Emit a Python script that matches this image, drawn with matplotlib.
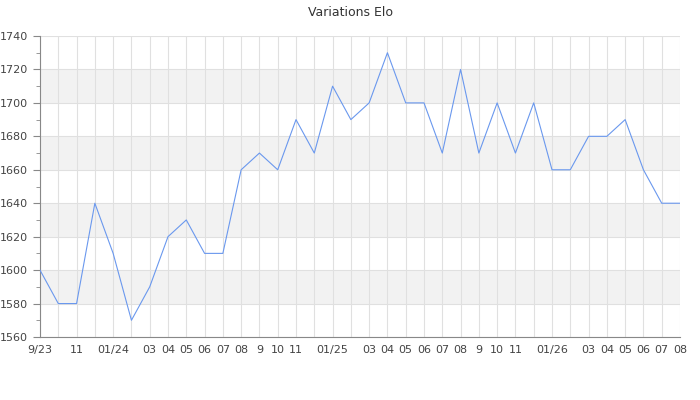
import matplotlib
matplotlib.use("Agg")
import matplotlib.pyplot as plt
import matplotlib.ticker as ticker

# monthly elo, sep 2023 -> aug 2026
elo = [1600, 1580, 1580, 1640, 1610, 1570, 1590, 1620, 1630, 1610, 1610, 1660,
       1670, 1660, 1690, 1670, 1710, 1690, 1700, 1730, 1700, 1700, 1670, 1720,
       1670, 1700, 1670, 1700, 1660, 1660, 1680, 1680, 1690, 1660, 1640, 1640]
month_labels = ["9/23", "", "11", "", "01/24", "", "03", "04", "05", "06", "07", "08",
                "9", "10", "11", "", "01/25", "", "03", "04", "05", "06", "07", "08",
                "9", "10", "11", "", "01/26", "", "03", "04", "05", "06", "07", "08"]
y_min, y_max = 1560, 1740
bands = [(1580, 1600), (1620, 1640), (1660, 1680), (1700, 1720)]

fig = plt.figure(figsize=(7, 4), dpi=100)
ax = fig.add_axes([40/700, 1-337/400, 640/700, 301/400])

x = list(range(len(elo)))
for lo, hi in bands:
    ax.axhspan(lo, hi, color="#f2f2f2", zorder=0, lw=0)

ax.plot(x, elo, color="#6a98ee", linewidth=0.8, zorder=3)

ax.set_xlim(0, len(elo) - 1)
ax.set_ylim(y_min, y_max)
ax.set_xticks(x)
ax.set_xticklabels(month_labels)
ax.yaxis.set_major_locator(ticker.MultipleLocator(20))
ax.yaxis.set_minor_locator(ticker.MultipleLocator(10))

ax.grid(True, which="major", color="#e0e0e0", linewidth=0.8, zorder=1)
ax.set_axisbelow(True)
for s in ["top", "right"]:
    ax.spines[s].set_visible(False)
for s in ["left", "bottom"]:
    ax.spines[s].set_color("#888888")
    ax.spines[s].set_linewidth(0.8)

ax.tick_params(axis="x", length=0, pad=6, labelsize=8, labelcolor="#444444")
ax.tick_params(axis="y", which="major", length=5, color="#888888", labelsize=8, labelcolor="#444444")
ax.tick_params(axis="y", which="minor", length=3, color="#888888")

fig.text(0.5, 1-12/400, "Variations Elo", ha="center", va="center", fontsize=9, color="#333333")

fig.savefig("out.png", dpi=100)
